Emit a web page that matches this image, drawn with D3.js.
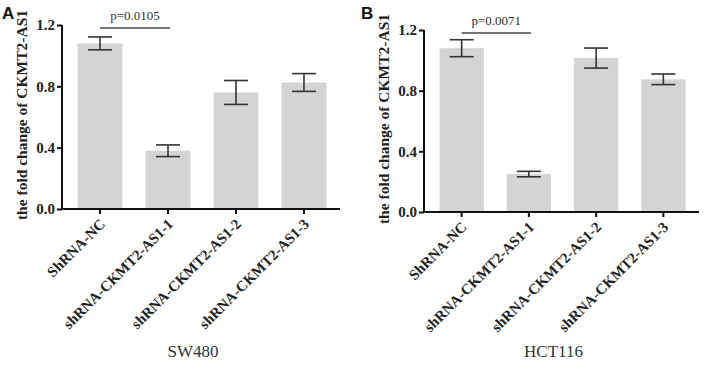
<!DOCTYPE html>
<html>
<head>
<meta charset="utf-8">
<script src="https://cdn.jsdelivr.net/npm/d3@7"></script>
<style>
  body { margin: 0; background: #fff; }
  svg { display: block; }
</style>
</head>
<body>
<div id="chart"></div>
<script>
// data
const categories = ['ShRNA-NC', 'shRNA-CKMT2-AS1-1', 'shRNA-CKMT2-AS1-2', 'shRNA-CKMT2-AS1-3'];
const yTicks = [0.0, 0.4, 0.8, 1.2];

const sw480Mean = [1.08, 0.38, 0.76, 0.825];
const sw480Err = [0.042, 0.038, 0.078, 0.058];
const hct116Mean = [1.08, 0.25, 1.015, 0.875];
const hct116Err = [0.056, 0.018, 0.066, 0.035];

const panels = [
  { letter: 'A', cell: 'SW480', mean: sw480Mean, err: sw480Err, p: 'p=0.0105', left: 62, top: 25, right: 340, bottom: 209, letterX: 2 },
  { letter: 'B', cell: 'HCT116', mean: hct116Mean, err: hct116Err, p: 'p=0.0071', left: 424, top: 30, right: 699, bottom: 212, letterX: 361 }
];

const svg = d3.select('#chart').append('svg')
  .attr('width', 704)
  .attr('height', 369);

const serif = '"Liberation Serif", "Times New Roman", serif';

panels.forEach(function (p) {
  const g = svg.append('g');

  const x = d3.scaleBand()
    .domain(categories)
    .range([p.left + 2, p.right])
    .paddingInner(0.34)
    .paddingOuter(0.2);

  const y = d3.scaleLinear()
    .domain([0, 1.2])
    .range([p.bottom, p.top]);

  const rows = categories.map((c, i) => ({ cat: c, mean: p.mean[i], err: p.err[i] }));

  // bars
  g.selectAll('.bar')
    .data(rows)
    .enter()
    .append('rect')
    .attr('class', 'bar')
    .attr('x', d => x(d.cat))
    .attr('width', x.bandwidth())
    .attr('y', d => y(d.mean))
    .attr('height', d => y(0) - y(d.mean))
    .attr('fill', '#d4d4d4');

  // error bars
  const cap = 12;
  const eb = g.selectAll('.err')
    .data(rows)
    .enter()
    .append('g')
    .attr('class', 'err')
    .attr('stroke', '#333')
    .attr('stroke-width', 1.6);
  eb.append('line')
    .attr('x1', d => x(d.cat) + x.bandwidth() / 2)
    .attr('x2', d => x(d.cat) + x.bandwidth() / 2)
    .attr('y1', d => y(d.mean + d.err))
    .attr('y2', d => y(d.mean - d.err));
  eb.append('line')
    .attr('x1', d => x(d.cat) + x.bandwidth() / 2 - cap)
    .attr('x2', d => x(d.cat) + x.bandwidth() / 2 + cap)
    .attr('y1', d => y(d.mean + d.err))
    .attr('y2', d => y(d.mean + d.err));
  eb.append('line')
    .attr('x1', d => x(d.cat) + x.bandwidth() / 2 - cap)
    .attr('x2', d => x(d.cat) + x.bandwidth() / 2 + cap)
    .attr('y1', d => y(d.mean - d.err))
    .attr('y2', d => y(d.mean - d.err));

  // y axis
  const yAxis = g.append('g')
    .attr('transform', `translate(${p.left},0)`)
    .call(d3.axisLeft(y).tickValues(yTicks).tickFormat(d3.format('.1f')).tickSizeOuter(0).tickSize(5));
  yAxis.select('.domain').attr('stroke', '#111').attr('stroke-width', 2)
    .attr('d', `M0,${p.bottom}V${p.top}`);
  yAxis.selectAll('.tick line').attr('stroke', '#111').attr('stroke-width', 2);
  yAxis.selectAll('.tick text')
    .attr('x', -7)
    .style('font-family', serif)
    .style('font-weight', 'bold')
    .style('font-size', '15px')
    .attr('fill', '#222');

  // x axis
  const xAxis = g.append('g')
    .attr('transform', `translate(0,${p.bottom})`)
    .call(d3.axisBottom(x).tickSizeOuter(0).tickSize(5));
  xAxis.select('.domain').attr('stroke', '#111').attr('stroke-width', 2)
    .attr('d', `M${p.left - 1},0H${p.right}`);
  xAxis.selectAll('.tick line').attr('stroke', '#111').attr('stroke-width', 2);
  xAxis.selectAll('.tick text')
    .attr('y', 0)
    .attr('dy', 0)
    .attr('transform', 'translate(6,16) rotate(-45)')
    .style('text-anchor', 'end')
    .style('font-family', serif)
    .style('font-weight', 'bold')
    .style('font-size', '14.8px')
    .attr('fill', '#222');

  // y title
  g.append('text')
    .attr('transform', `translate(${p.left - 35},${(p.top + p.bottom) / 2 - 2}) rotate(-90)`)
    .attr('text-anchor', 'middle')
    .style('font-family', serif)
    .style('font-weight', 'bold')
    .style('font-size', '15.5px')
    .attr('fill', '#222')
    .text('the fold change of CKMT2-AS1');

  // significance bracket
  const x0 = x(categories[0]) + x.bandwidth() / 2;
  const x1 = x(categories[1]) + x.bandwidth() / 2 + 2;
  g.append('line')
    .attr('x1', x0).attr('x2', x1)
    .attr('y1', p.top + 3).attr('y2', p.top + 3)
    .attr('stroke', '#444').attr('stroke-width', 1.3);
  g.append('text')
    .attr('x', (x0 + x1) / 2)
    .attr('y', p.top - 5)
    .attr('text-anchor', 'middle')
    .style('font-family', serif)
    .style('font-size', '13px')
    .attr('fill', '#333')
    .text(p.p);

  // cell line label
  g.append('text')
    .attr('x', (p.left + p.right) / 2 - 8)
    .attr('y', 357)
    .attr('text-anchor', 'middle')
    .style('font-family', serif)
    .style('font-size', '17px')
    .attr('fill', '#333')
    .text(p.cell);

  // panel letter
  g.append('text')
    .attr('x', p.letterX)
    .attr('y', 19)
    .style('font-family', '"Liberation Sans", Arial, sans-serif')
    .style('font-weight', 'bold')
    .style('font-size', '17px')
    .attr('fill', '#111')
    .text(p.letter);
});
</script>
</body>
</html>
